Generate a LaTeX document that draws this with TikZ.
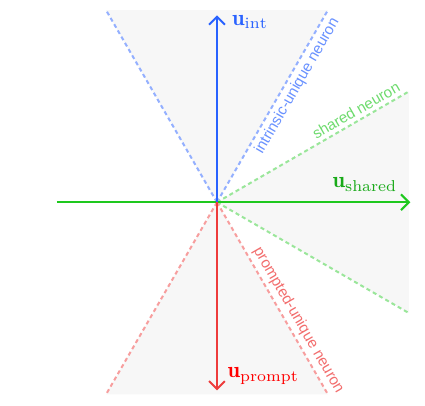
\documentclass[tikz,border=0pt]{standalone}
\usepackage{fontspec}
\usetikzlibrary{arrows.meta}
\newfontfamily\labelfont{Liberation Sans}
\definecolor{intblue}{RGB}{41,98,255}
\definecolor{sharedgreen}{RGB}{30,200,30}
\definecolor{promptred}{RGB}{238,60,60}

\begin{document}
\begin{tikzpicture}[
    axis/.style={line width=0.9pt,-{Straight Barb[length=3.5pt,width=7pt]}},
    guide/.style={line width=0.9pt,dash pattern=on 1.8pt off 1.4pt},
    cone/.style={fill=black!3},
    lbl/.style={font=\labelfont\fontsize{6.75}{8}\selectfont,inner sep=1.5pt}]
    \useasboundingbox(-3.39,-3.17)rectangle(3.25,3.16);
    \coordinate(O)at(0,0);
    \coordinate(L)at(-2.5,0);
    \coordinate(S)at(3.02,0);
    \coordinate(I)at(0,2.92);
    \coordinate(P)at(0,-2.94);

    % shaded cones
    \fill[cone](O)--(120:3.464)--(60:3.464)--cycle;
    \fill[cone](O)--(30:3.464)--(-30:3.464)--cycle;
    \fill[cone](O)--(-120:3.464)--(-60:3.464)--cycle;

    \draw[guide,intblue!50](O)--(120:3.464);
    \draw[guide,intblue!50](O)--(60:3.464)node[lbl,pos=0.635,sloped,below,text=intblue!70]{intrinsic-unique neuron};
    \draw[guide,sharedgreen!45](O)--(30:3.464)node[lbl,pos=0.75,sloped,above,text=sharedgreen!65]{shared neuron};
    \draw[guide,sharedgreen!45](O)--(-30:3.464);
    \draw[guide,promptred!50](O)--(-120:3.464);
    \draw[guide,promptred!50](O)--(-60:3.464)node[lbl,pos=0.645,sloped,above,text=promptred!75]{prompted-unique neuron};

    \draw[axis,sharedgreen](L)--(S)node[above left,xshift=-2pt,yshift=1pt,text=sharedgreen!85!black]{$\mathbf{u}_{\mathrm{shared}}$};
    \draw[axis,intblue](O)--(I)node[right,yshift=-3pt,xshift=3pt]{$\mathbf{u}_{\mathrm{int}}$};
    \draw[axis,promptred](O)--(P)node[above right,xshift=1pt,yshift=-1pt,text=red]{$\mathbf{u}_{\mathrm{prompt}}$};
\end{tikzpicture}
\end{document}
